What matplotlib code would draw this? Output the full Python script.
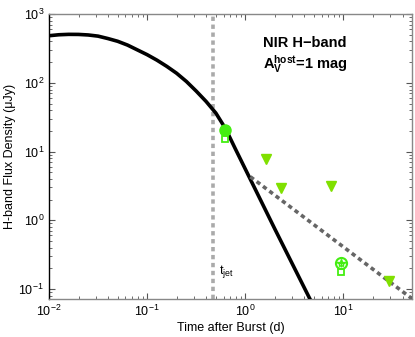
import matplotlib
matplotlib.use("Agg")
import matplotlib.pyplot as plt
from matplotlib.ticker import LogLocator, NullFormatter

plt.rcParams['font.family'] = ['Liberation Sans', 'DejaVu Sans']
plt.rcParams['mathtext.fontset'] = 'custom'
plt.rcParams['mathtext.rm'] = 'Liberation Sans'
plt.rcParams['mathtext.it'] = 'Liberation Sans'
plt.rcParams['mathtext.bf'] = 'Liberation Sans:bold'

# model light curve (log10 t and log10 F)
model_logt = [-2.0, -1.9, -1.8, -1.7, -1.6, -1.5, -1.4, -1.3, -1.2, -1.1, -1.0, -0.9,
              -0.8, -0.7, -0.6, -0.5, -0.4, -0.3, -0.2, -0.1, 0.0, 0.1, 0.2, 0.3,
              0.4, 0.5, 0.6, 0.7]
model_logf = [2.686, 2.700, 2.706, 2.705, 2.697, 2.680, 2.645, 2.605, 2.550, 2.480, 2.410, 2.330,
              2.240, 2.140, 2.020, 1.880, 1.730, 1.560, 1.330, 1.035, 0.745, 0.455, 0.165, -0.125,
              -0.410, -0.695, -0.980, -1.265]
model_t = [10 ** v for v in model_logt]
model_f = [10 ** v for v in model_logf]

# late-time shallower decay (dashed)
late_t = [1.125, 50]
late_f = [4.3, 0.072]

t_jet = 0.47

# detections
det_t = [0.627]
det_f = [20.8]
det_open_t = [0.62, 9.5]
det_open_f = [15.4, 0.176]
star_t = [9.5]
star_f = [0.24]

# upper limits
ul_t = [1.64, 2.33, 7.4, 29.4]
ul_f = [7.9, 2.9, 3.1, 0.13]

fig = plt.figure(figsize=(4.15, 3.37), dpi=100)
ax = fig.add_axes([0.118, 0.113, 0.875, 0.845])

ax.plot(model_t, model_f, color='black', lw=2.6, zorder=3, solid_joinstyle='round')
ax.plot(late_t, late_f, color='#666666', lw=2.6, ls=(0, (1.2, 1.0)), zorder=3)
ax.axvline(t_jet, color='#aaaaaa', lw=2.6, ls=(0, (1.2, 1.0)), zorder=2)

green = '#44ee11'
ax.plot(det_t, det_f, 'o', color=green, ms=8, zorder=5)
ax.plot(det_open_t, det_open_f, 's', mfc='none', mec=green, mew=1.3, ms=5, zorder=5)
ax.plot(star_t, star_f, 'o', mfc='none', mec=green, mew=1.5, ms=8, zorder=5)
ax.plot(star_t, star_f, '*', mfc='none', mec=green, mew=1.0, ms=6, zorder=5)
ax.plot(star_t, star_f, '+', color=green, mew=1.0, ms=6, zorder=5)
ax.plot(ul_t, ul_f, 'v', color='#80e000', ms=7, zorder=5)

ax.set_xscale('log')
ax.set_yscale('log')
ax.set_xlim(0.01, 50)
ax.set_ylim(0.0716, 1000)

ax.xaxis.set_major_locator(LogLocator(base=10, numticks=10))
ax.yaxis.set_major_locator(LogLocator(base=10, numticks=10))
ax.xaxis.set_minor_locator(LogLocator(base=10, subs=range(2, 10), numticks=20))
ax.yaxis.set_minor_locator(LogLocator(base=10, subs=range(2, 10), numticks=20))
ax.xaxis.set_minor_formatter(NullFormatter())
ax.yaxis.set_minor_formatter(NullFormatter())

ax.tick_params(which='both', direction='in', top=True, right=True, labelsize=9, color='#555555')
ax.tick_params(which='major', length=4)
ax.tick_params(which='minor', length=2)

for s in ['top', 'right', 'bottom']:
    ax.spines[s].set_color('#888888')
ax.spines['left'].set_color('black')
for s in ax.spines.values():
    s.set_linewidth(1.0)

ax.set_xlabel('Time after Burst (d)', fontsize=9, labelpad=2)
ax.set_ylabel('H-band Flux Density (\u03bcJy)', fontsize=9, labelpad=2)

fig.text(263 / 415, 1 - 43 / 337, 'NIR H\u2212band', fontsize=10.5, fontweight='bold',
         va='center', ha='left')
fig.text(263 / 415, 1 - 64 / 337, r'$\mathbf{A_V^{host}}$=1 mag', fontsize=10.5, fontweight='bold',
         va='center', ha='left')
fig.text(219 / 415, 1 - 272 / 337, r'$\mathrm{t_{jet}}$', fontsize=9, va='center', ha='left')

fig.savefig('out.png', dpi=100)
